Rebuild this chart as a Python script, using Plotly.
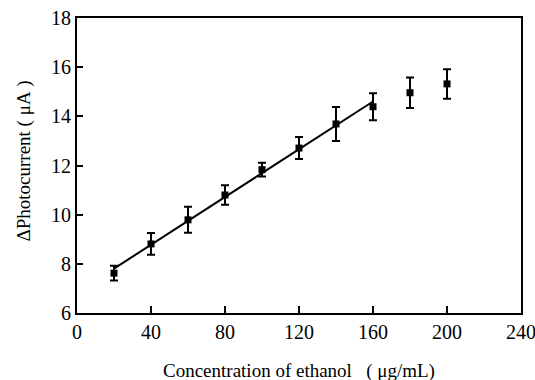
import numpy as np
import plotly.graph_objects as go

# Data
concentration = [20, 40, 60, 80, 100, 120, 140, 160, 180, 200]
photocurrent = [7.62, 8.81, 9.79, 10.80, 11.83, 12.71, 13.69, 14.39, 14.96, 15.32]
error = [0.30, 0.44, 0.53, 0.40, 0.28, 0.45, 0.69, 0.55, 0.62, 0.60]
n_linear = 8  # points 20..160 are in the linear range

x_ticks = [0, 40, 80, 120, 160, 200, 240]
y_ticks = [6, 8, 10, 12, 14, 16, 18]

x_title = "Concentration of ethanol&nbsp;&nbsp;&nbsp;(&nbsp;μg/mL)"
y_title = "ΔPhotocurrent&nbsp;(&nbsp;μA&nbsp;)"

# Linear fit over the linear range
slope, intercept = np.polyfit(concentration[:n_linear], photocurrent[:n_linear], 1)
fit_x = [concentration[0], concentration[n_linear - 1]]
fit_y = [slope * v + intercept for v in fit_x]

font_family = "Liberation Serif, Times New Roman, serif"

fig = go.Figure()
fig.add_trace(go.Scatter(
    x=fit_x, y=fit_y, mode="lines",
    line=dict(color="black", width=2), showlegend=False, hoverinfo="skip"))
fig.add_trace(go.Scatter(
    x=concentration, y=photocurrent, mode="markers",
    marker=dict(symbol="square", size=7, color="black"),
    error_y=dict(type="data", array=error, visible=True, color="black",
                 thickness=2, width=4),
    showlegend=False))

axis_common = dict(
    showline=True, linecolor="black", linewidth=2, mirror=True,
    showgrid=False, zeroline=False, automargin=False,
    ticks="inside", tickcolor="black", tickwidth=1.5,
    ticklabeloverflow="allow",
    tickfont=dict(family=font_family, size=20, color="black"),
)

fig.update_xaxes(range=[0, 240], tickvals=x_ticks, ticklen=7, **axis_common)
fig.update_yaxes(range=[6, 18], tickvals=y_ticks, ticklen=6, **axis_common)

fig.add_annotation(
    text=x_title, xref="paper", yref="paper", x=0.5, y=0,
    xanchor="center", yanchor="middle", yshift=-58, showarrow=False,
    font=dict(family=font_family, size=19, color="black"))
fig.add_annotation(
    text=y_title, xref="paper", yref="paper", x=0, y=0.5,
    xanchor="center", yanchor="middle", xshift=-54, yshift=4,
    textangle=-90, showarrow=False,
    font=dict(family=font_family, size=19, color="black"))

fig.update_layout(
    width=535, height=380,
    margin=dict(l=77, r=14, t=18, b=67),
    paper_bgcolor="white", plot_bgcolor="white",
    font=dict(family=font_family, color="black"),
)

fig.write_html("out.html")
